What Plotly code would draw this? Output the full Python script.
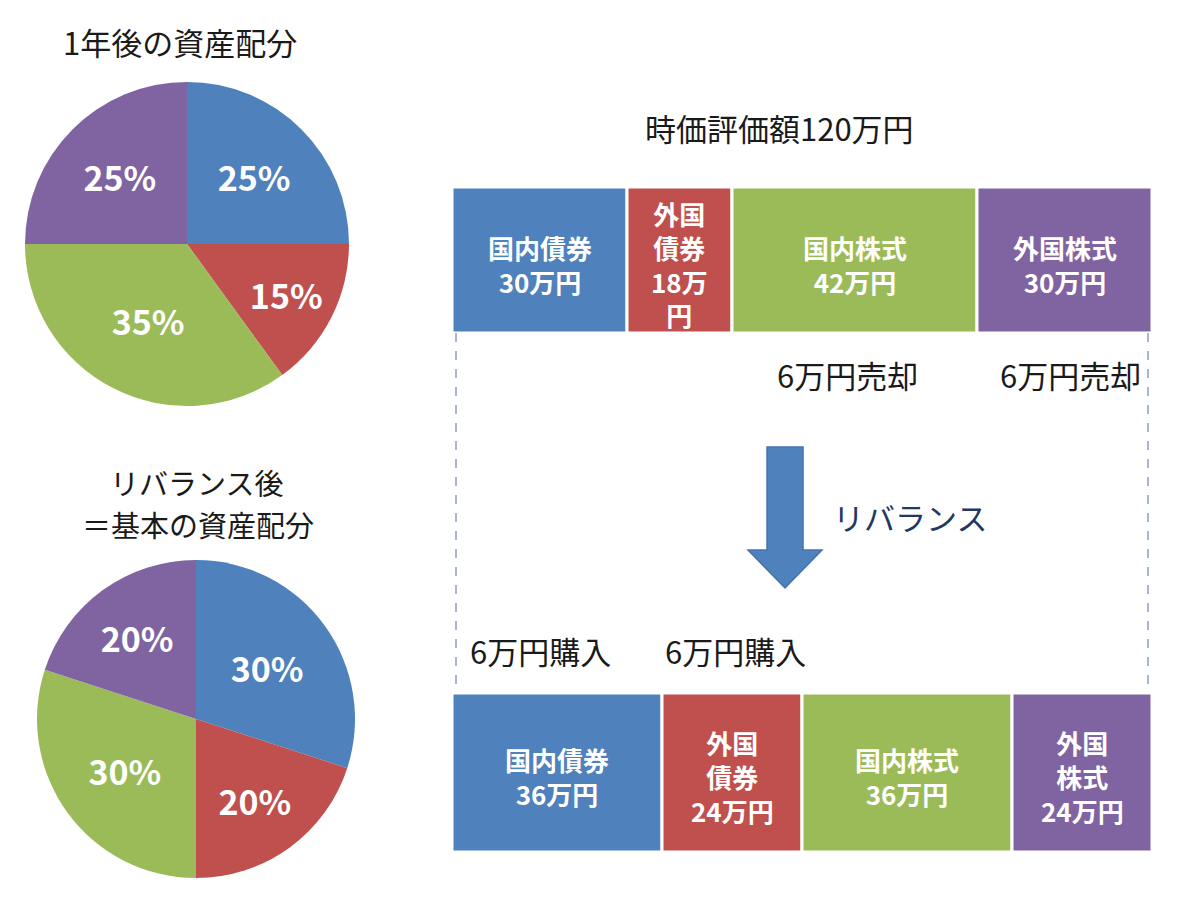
import plotly.graph_objects as go

W, H = 1200, 903

# ---------------- data ----------------
asset_classes = ["国内債券", "外国債券", "国内株式", "外国株式"]
colors = ["#4F81BD", "#C0504D", "#9BBB59", "#8064A2"]

pie_after_1y = [25, 15, 35, 25]        # % 1年後の資産配分
pie_rebalanced = [30, 20, 30, 20]      # % リバランス後＝基本の資産配分

bar_before = [30, 18, 42, 30]          # 万円 (時価評価額120万円)
bar_after = [36, 24, 36, 24]           # 万円 (リバランス後)

bar_before_labels = ["国内債券<br>30万円", "外国<br>債券<br>18万<br>円",
                     "国内株式<br>42万円", "外国株式<br>30万円"]
bar_after_labels = ["国内債券<br>36万円", "外国<br>債券<br>24万円",
                    "国内株式<br>36万円", "外国<br>株式<br>24万円"]

total = sum(bar_before)

FONT = "Noto Sans CJK JP"


def px(x):
    return x / W


def py(y):
    return 1 - y / H


fig = go.Figure()

# ---------------- pies ----------------
pie_specs = [
    (pie_after_1y, (187, 244, 162)),
    (pie_rebalanced, (196, 719, 159)),
]
for vals, (cx, cy, r) in pie_specs:
    fig.add_trace(go.Pie(
        values=vals,
        labels=asset_classes,
        marker=dict(colors=colors, line=dict(width=0)),
        sort=False,
        direction="clockwise",
        rotation=0,
        texttemplate="%{value}%",
        textposition="inside",
        insidetextorientation="horizontal",
        textfont=dict(family=FONT, size=34, color="white", weight="bold"),
        hoverinfo="skip",
        domain=dict(x=[px(cx - r), px(cx + r)], y=[py(cy + r), py(cy - r)]),
        showlegend=False,
    ))

# ---------------- stacked bars ----------------
bar_specs = [
    (bar_before, bar_before_labels, "x", "y"),
    (bar_after, bar_after_labels, "x2", "y2"),
]
annotations = []
for vals, labels, xa, ya in bar_specs:
    bases = [sum(vals[:i]) for i in range(len(vals))]
    fig.add_trace(go.Bar(
        x=vals, base=bases, y=[0] * len(vals),
        orientation="h", width=1,
        marker=dict(color=colors, line=dict(color="white", width=3)),
        xaxis=xa, yaxis=ya, hoverinfo="skip", showlegend=False,
    ))
    for b, v, lab in zip(bases, vals, labels):
        annotations.append(dict(
            x=b + v / 2, y=0, xref=xa, yref=ya, text=lab, showarrow=False,
            yshift=-4,
            font=dict(family=FONT, size=26, color="white", weight="bold"),
        ))

BAR_X = [452 / W, 1152 / W]
TOP_BAR = (187, 333)
BOT_BAR = (693, 852)

fig.update_layout(
    xaxis=dict(domain=BAR_X, range=[0, total], visible=False, fixedrange=True),
    yaxis=dict(domain=[py(TOP_BAR[1]), py(TOP_BAR[0])], range=[-0.5, 0.5],
               visible=False, fixedrange=True),
    xaxis2=dict(domain=BAR_X, range=[0, total], visible=False, fixedrange=True,
                anchor="y2"),
    yaxis2=dict(domain=[py(BOT_BAR[1]), py(BOT_BAR[0])], range=[-0.5, 0.5],
                visible=False, fixedrange=True, anchor="x2"),
    barmode="overlay",
)


# ---------------- texts ----------------
def txt(x, y, s, size=31, color="#1a1a1a", weight="normal"):
    annotations.append(dict(
        x=px(x), y=py(y), xref="paper", yref="paper", text=s, showarrow=False,
        xanchor="center", yanchor="middle",
        font=dict(family=FONT, size=size, color=color, weight=weight),
    ))


txt(180, 41, "1年後の資産配分")
txt(196, 482, "リバランス後", size=29)
txt(198, 524, "＝基本の資産配分", size=29)
txt(779, 128, "時価評価額120万円")
txt(847, 374, "6万円売却")
txt(1070, 374, "6万円売却")
txt(910, 516, "リバランス", color="#1F3864")
txt(540, 650, "6万円購入")
txt(735, 650, "6万円購入")

# ---------------- shapes: dashed guides + arrow ----------------
shapes = []
for gx in (456, 1148):
    shapes.append(dict(
        type="line", xref="paper", yref="paper",
        x0=px(gx), x1=px(gx), y0=py(TOP_BAR[1]), y1=py(BOT_BAR[0]),
        line=dict(color="#6f86b0", width=1.2, dash="dash"),
    ))

arrow_pts = [(767, 447), (803, 447), (803, 550), (822, 550), (785, 588),
             (748, 550), (767, 550)]
path = "M " + " L ".join(f"{px(x):.5f},{py(y):.5f}" for x, y in arrow_pts) + " Z"
shapes.append(dict(type="path", xref="paper", yref="paper", path=path,
                   fillcolor="#4F81BD", line=dict(color="#4474ad", width=1.5)))

fig.update_layout(
    width=W, height=H,
    margin=dict(l=0, r=0, t=0, b=0),
    paper_bgcolor="white", plot_bgcolor="white",
    annotations=annotations, shapes=shapes,
    showlegend=False,
)

fig.write_html("out.html", config=dict(displayModeBar=False))
